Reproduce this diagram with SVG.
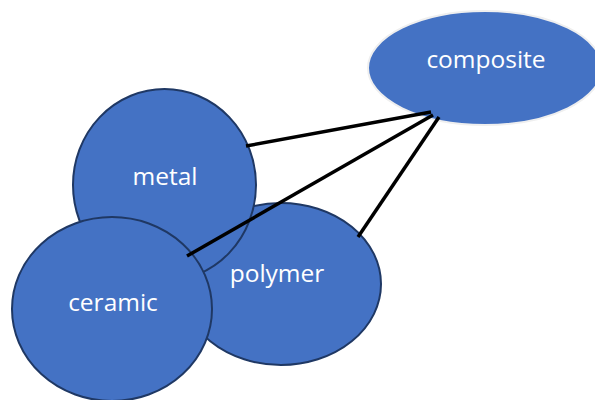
<svg xmlns="http://www.w3.org/2000/svg" width="595" height="400" viewBox="0 0 595 400">
<style>
.n{fill:#4472C4;stroke:#1F3864;stroke-width:2}
.c{fill:#4472C4;stroke:#EFEFEF;stroke-width:2}
.t{fill:#FFFFFF;font-family:"Open Sans","Noto Sans",sans-serif;font-size:24.5px;text-anchor:middle}
.l{stroke:#000000;stroke-width:3.5;fill:none}
</style>
<rect width="595" height="400" fill="#FFFFFF"/>
<g id="composite"><ellipse class="c" cx="485" cy="68" rx="117" ry="57"/><text class="t" x="486" y="68">composite</text></g>
<g id="polymer"><ellipse class="n" cx="281" cy="284" rx="100" ry="81"/><text class="t" x="277" y="282">polymer</text></g>
<g id="metal"><ellipse class="n" cx="164.5" cy="185" rx="91.5" ry="96"/><text class="t" x="165" y="185">metal</text></g>
<g id="ceramic"><ellipse class="n" cx="112" cy="309" rx="100" ry="92"/><text class="t" x="113" y="311">ceramic</text></g>
<g id="connectors">
<line class="l" x1="246" y1="146" x2="431" y2="112"/>
<line class="l" x1="187" y1="256" x2="433" y2="115"/>
<line class="l" x1="358" y1="237" x2="439" y2="117"/>
</g>
</svg>
